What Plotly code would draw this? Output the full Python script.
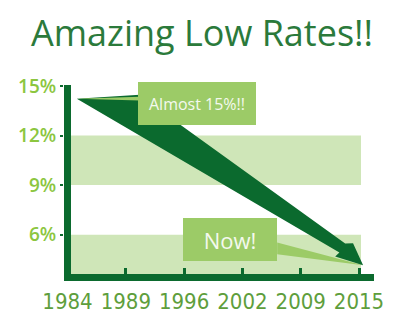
import math
import plotly.graph_objects as go

# ---- data ----
years = ["1984", "1989", "1996", "2002", "2009", "2015"]
ytick_vals = [6, 9, 12, 15]
ytick_text = ["6%", "9%", "12%", "15%"]
band_low = [3.0, 9.0]
band_high = [6.0, 12.0]
arrow_x = [0.16, 5.07]      # arrow from ~1984 to ~2015 (category index)
arrow_y = [14.23, 4.15]     # rate (%)
labels = ["Almost 15%!!", "Now!"]
label_x = [2.22, 2.79]
label_y = [13.96, 5.73]

# ---- style ----
W, H = 400, 326
ML, MR, MT, MB = 64, 26, 85, 49
xr = [-0.06, 5.257]
yr = [3.617, 15.06]
DARK = "#0b6a2e"
BOX = "#9ccb67"
BAND = "#cfe6b8"
pw, ph = W - ML - MR, H - MT - MB
sx = pw / (xr[1] - xr[0])
sy = ph / (yr[1] - yr[0])

def to_px(x, y):
    return (x * sx, -y * sy)

def to_data(px, py):
    return (px / sx, -py / sy)

Spx = to_px(arrow_x[0], arrow_y[0])
Epx = to_px(arrow_x[1], arrow_y[1])
dx, dy = Epx[0] - Spx[0], Epx[1] - Spx[1]
L = math.hypot(dx, dy)
ux, uy = dx / L, dy / L
nx, ny = uy, -ux

def pt(t, off):
    px = Spx[0] + t * dx + off * nx
    py = Spx[1] + t * dy + off * ny
    return to_data(px, py)

def path(points):
    s = "M %.4f,%.4f " % points[0]
    for p in points[1:]:
        s += "L %.4f,%.4f " % p
    return s + "Z"

arrow_pts = [pt(*a) for a in [(0, 0), (0.157, 35.5), (0.307, 30), (0.92, 9.8),
                               (0.94, 14), (1, 0), (0.914, -6.5), (0.919, -1)]]
sliver_pts = [pt(*a) for a in [(0, 0), (0.16, 33.8), (0.166, 30.4)]]

box_w = [118, 94]
box_h = [43, 43]
# "Now!" pointer: from right edge of box to arrow tip
bx_r = label_x[1] + (box_w[1] / 2) / sx
now_ptr = [(bx_r, label_y[1] - 3.5 / sy), (arrow_x[1], arrow_y[1]),
           (bx_r, label_y[1] - 15.5 / sy)]

fig = go.Figure()
fig.add_trace(go.Scatter(x=arrow_x, y=arrow_y, mode="markers",
                         marker=dict(opacity=0), hoverinfo="skip",
                         showlegend=False))

shapes = []
for lo, hi in zip(band_low, band_high):
    shapes.append(dict(type="rect", xref="x", yref="y", x0=0, x1=5.034,
                       y0=lo, y1=hi, fillcolor=BAND, line=dict(width=0),
                       layer="below"))
shapes.append(dict(type="path", xref="x", yref="y", path=path(now_ptr),
                   fillcolor=BOX, line=dict(width=0), layer="above"))
shapes.append(dict(type="path", xref="x", yref="y", path=path(arrow_pts),
                   fillcolor=DARK, line=dict(width=0), layer="above"))
shapes.append(dict(type="path", xref="x", yref="y", path=path(sliver_pts),
                   fillcolor=BOX, line=dict(width=0), layer="above"))

annotations = []
fsz = [16, 22]
for i, t in enumerate(labels):
    annotations.append(dict(x=label_x[i], y=label_y[i], xref="x", yref="y",
                            text=t, showarrow=False, width=box_w[i],
                            height=box_h[i], bgcolor=BOX, borderpad=0,
                            borderwidth=0, align="center", valign="middle",
                            font=dict(family="Open Sans", size=fsz[i],
                                      color="#f4f9ee")))

fig.update_layout(
    width=W, height=H, margin=dict(l=ML, r=MR, t=MT, b=MB),
    paper_bgcolor="white", plot_bgcolor="white",
    shapes=shapes, annotations=annotations,
    title=dict(text="Amazing Low Rates!!", x=0.505, xanchor="center",
               y=1 - 33 / H, yanchor="middle",
               font=dict(family="Open Sans", size=36, color="#2b7a3b")),
    showlegend=False,
)
fig.update_xaxes(range=xr, tickmode="array", tickvals=list(range(len(years))),
                 ticktext=years, ticks="inside", ticklen=6, tickwidth=3,
                 tickcolor=DARK, showline=True, linewidth=7, linecolor=DARK,
                 showgrid=False, zeroline=True, zerolinewidth=7,
                 zerolinecolor=DARK, fixedrange=True, ticklabelstandoff=2,
                 tickfont=dict(family="DejaVu Sans Condensed, DejaVu Sans",
                               size=22, color="#5e9e3c"))
fig.update_yaxes(range=yr, tickmode="array", tickvals=ytick_vals,
                 ticktext=ytick_text, ticks="outside", ticklen=3, tickwidth=2,
                 tickcolor=DARK, showline=False, showgrid=False,
                 zeroline=False, fixedrange=True,
                 tickfont=dict(family="Open Sans", size=19, color="#8cc63f",
                               weight=600))

fig.write_html("out.html", config={"displayModeBar": False})
